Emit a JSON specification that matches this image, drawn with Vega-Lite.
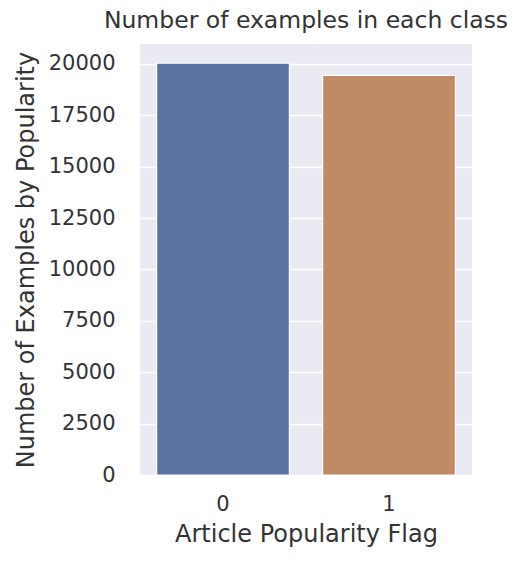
{
  "$schema": "https://vega.github.io/schema/vega-lite/v6.json",
  "width": 332,
  "height": 431,
  "autosize": "none",
  "padding": {"left": 140, "top": 44, "right": 54, "bottom": 89},
  "background": "white",
  "title": {
    "text": "Number of examples in each class",
    "font": "DejaVu Sans",
    "fontSize": 23.5,
    "fontWeight": "normal",
    "color": "#333333",
    "offset": 12,
    "anchor": "middle"
  },
  "data": {
    "values": [
      {"flag": "0", "count": 20040},
      {"flag": "1", "count": 19440}
    ]
  },
  "mark": {"type": "bar", "stroke": "white", "strokeWidth": 1.2},
  "encoding": {
    "x": {
      "field": "flag",
      "type": "nominal",
      "title": "Article Popularity Flag",
      "scale": {"paddingInner": 0.2, "paddingOuter": 0.1},
      "axis": {"labelAngle": 0, "grid": false, "ticks": false, "domain": false, "labelPadding": 18, "titlePadding": 8}
    },
    "y": {
      "field": "count",
      "type": "quantitative",
      "title": "Number of Examples by Popularity",
      "scale": {"domain": [0, 20970], "nice": false},
      "axis": {"values": [0, 2500, 5000, 7500, 10000, 12500, 15000, 17500, 20000], "format": "d", "ticks": false, "domain": false, "labelPadding": 25, "titlePadding": 10}
    },
    "color": {
      "field": "flag",
      "type": "nominal",
      "scale": {"domain": ["0", "1"], "range": ["#5b73a1", "#c18a66"]},
      "legend": null
    }
  },
  "config": {
    "view": {"fill": "#eaeaf2", "stroke": null},
    "axis": {
      "labelFont": "DejaVu Sans",
      "titleFont": "DejaVu Sans",
      "labelFontSize": 21,
      "titleFontSize": 24,
      "titleFontWeight": "normal",
      "labelColor": "#333333",
      "titleColor": "#333333",
      "gridColor": "white",
      "gridWidth": 1.3,
      "gridOpacity": 1
    }
  }
}
